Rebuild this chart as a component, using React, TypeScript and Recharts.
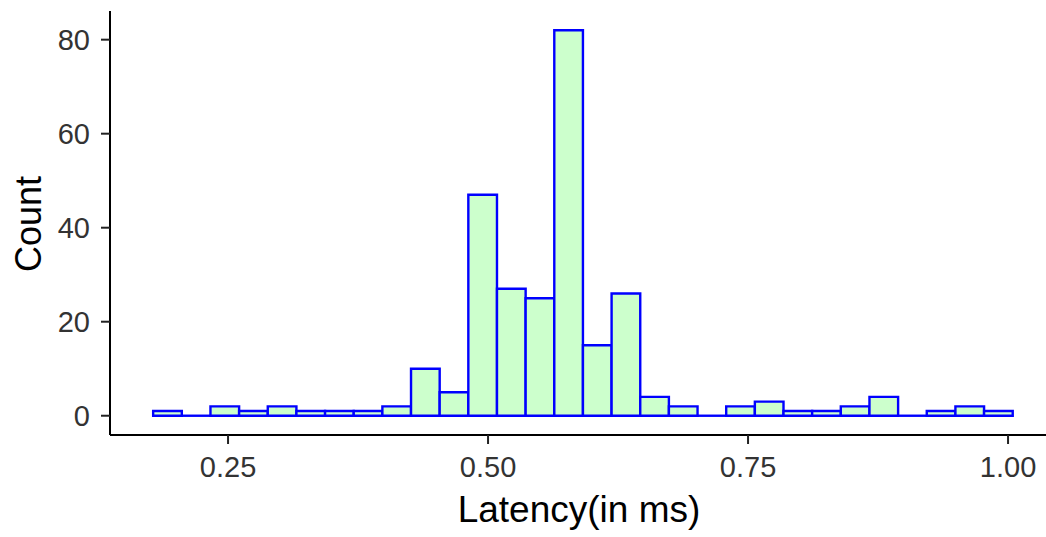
import React from "react";
import {
  ComposedChart,
  Line,
  XAxis,
  YAxis,
  ReferenceArea,
  ReferenceLine,
  Label,
} from "recharts";

// histogram bins: 30 equal-width bins (ggplot default)
const binStart = 0.178;
const binWidth = 0.02755;
const counts = [
  1, 0, 2, 1, 2, 1, 1, 1, 2, 10, 5, 47, 27, 25, 82, 15, 26, 4, 2, 0, 2, 3, 1,
  1, 2, 4, 0, 1, 2, 1,
];
const xTicks = [0.25, 0.5, 0.75, 1.0];
const yTicks = [0, 20, 40, 60, 80];

const bins = counts.map((count, i) => ({
  x0: binStart + i * binWidth,
  x1: binStart + (i + 1) * binWidth,
  mid: binStart + (i + 0.5) * binWidth,
  count,
}));

const FONT = "'Liberation Sans', Arial, Helvetica, sans-serif";
const FILL = "#ccffcc";
const EDGE = "#0000ff";

export default function App() {
  return (
    <div style={{ position: "absolute", left: 0, top: 0, background: "#fff" }}>
      <ComposedChart
        width={1046}
        height={537}
        data={bins}
        margin={{ top: 11, right: 0, bottom: 0, left: 0 }}
        style={{ fontFamily: FONT }}
      >
        <XAxis
          dataKey="mid"
          type="number"
          domain={[0.1365, 1.0365]}
          allowDataOverflow
          ticks={xTicks}
          tickFormatter={(v: number) => v.toFixed(2)}
          height={102}
          tickSize={9}
          tickMargin={12}
          axisLine={{ stroke: "#000", strokeWidth: 2 }}
          tickLine={{ stroke: "#222", strokeWidth: 2 }}
          tick={{ fill: "#333", fontSize: 29, fontFamily: FONT }}
        >
          <Label
            content={() => (
              <text
                x={579}
                y={522}
                textAnchor="middle"
                fontSize={37}
                fontFamily={FONT}
                fill="#000"
              >
                Latency(in ms)
              </text>
            )}
          />
        </XAxis>
        <YAxis
          type="number"
          domain={[-4.1, 86.1]}
          allowDataOverflow
          ticks={yTicks}
          width={110}
          tickSize={9}
          tickMargin={11}
          axisLine={{ stroke: "#000", strokeWidth: 2 }}
          tickLine={{ stroke: "#222", strokeWidth: 2 }}
          tick={{ fill: "#333", fontSize: 29, fontFamily: FONT }}
        >
          <Label
            content={() => (
              <text
                x={41}
                y={224}
                transform="rotate(-90, 41, 224)"
                textAnchor="middle"
                fontSize={36}
                fontFamily={FONT}
                fill="#000"
              >
                Count
              </text>
            )}
          />
        </YAxis>
        <Line
          dataKey="count"
          stroke="none"
          dot={false}
          activeDot={false}
          isAnimationActive={false}
        />
        {bins.map((b, i) =>
          b.count > 0 ? (
            <ReferenceArea
              key={`bin-${i}`}
              x1={b.x0}
              x2={b.x1}
              y1={0}
              y2={b.count}
              fill={FILL}
              fillOpacity={1}
              stroke={EDGE}
              strokeWidth={2.4}
              ifOverflow="visible"
            />
          ) : (
            <ReferenceLine
              key={`bin-${i}`}
              segment={[
                { x: b.x0, y: 0 },
                { x: b.x1, y: 0 },
              ]}
              stroke={EDGE}
              strokeWidth={2.4}
              ifOverflow="visible"
            />
          )
        )}
      </ComposedChart>
    </div>
  );
}
